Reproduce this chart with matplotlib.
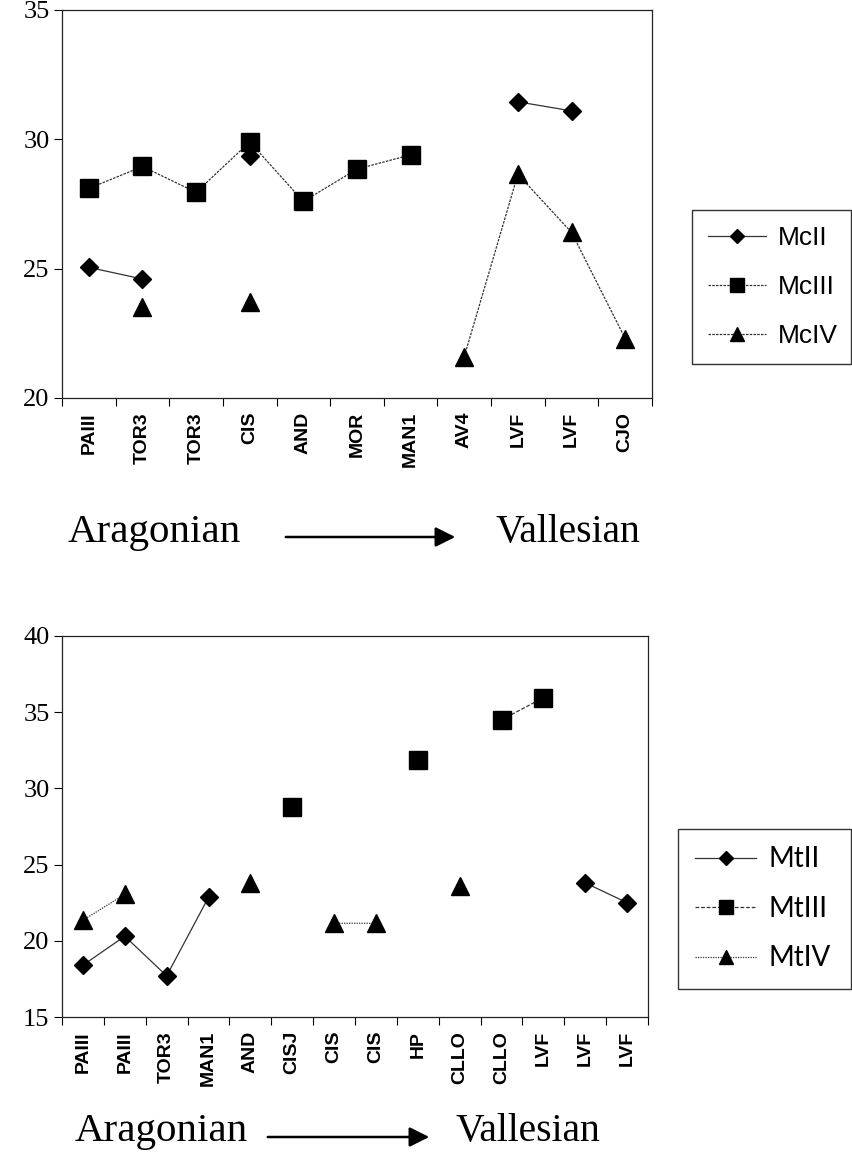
import matplotlib
matplotlib.use('Agg')
import matplotlib.pyplot as plt
from matplotlib.patches import FancyArrowPatch
import numpy as np

plt.rcParams.update({'font.family': 'Liberation Serif'})

# top panel (metacarpals)
mc_sites = ['PAIII', 'TOR3', 'TOR3', 'CIS', 'AND', 'MOR', 'MAN1', 'AV4', 'LVF', 'LVF', 'CJO']
mc_ii = [25.05, 24.6, None, 29.35, None, None, None, None, 31.45, 31.1, None]
mc_iii = [28.1, 28.95, 27.95, 29.9, 27.6, 28.85, 29.4, None, None, None, None]
mc_iv = [None, 23.5, None, 23.7, None, None, None, 21.6, 28.65, 26.4, 22.3]

# bottom panel (metatarsals)
mt_sites = ['PAIII', 'PAIII', 'TOR3', 'MAN1', 'AND', 'CISJ', 'CIS', 'CIS', 'HP', 'CLLO', 'CLLO', 'LVF', 'LVF', 'LVF']
mt_ii = [18.4, 20.3, 17.7, 22.85, None, None, None, None, None, None, None, None, 23.8, 22.5]
mt_iii = [None, None, None, None, None, 28.8, None, None, 31.85, None, 34.5, 35.95, None, None]
mt_iv = [21.35, 23.05, None, None, 23.8, None, 21.15, 21.15, None, 23.6, None, None, None, None]

W, H = 852, 1155
fig = plt.figure(figsize=(W / 100, H / 100), dpi=100)


def to_arr(vals):
    return np.array([np.nan if v is None else v for v in vals], dtype=float)


def setup_axis(ax, sites, ylim, yticks):
    n = len(sites)
    ax.set_xlim(-0.5, n - 0.5)
    ax.set_ylim(*ylim)
    ax.set_xticks(np.arange(n + 1) - 0.5)
    ax.set_xticklabels([])
    ax.set_xticks(np.arange(n), minor=True)
    ax.set_xticklabels(sites, minor=True, rotation=90, fontsize=14,
                       family='Liberation Sans', weight='bold', va='top')
    ax.tick_params(axis='x', which='minor', length=0, pad=10)
    ax.tick_params(axis='x', which='major', length=6, width=0.8, direction='out')
    ax.set_yticks(yticks)
    ax.tick_params(axis='y', length=6, width=0.8, direction='out', labelsize=19, pad=3)
    for sp in ax.spines.values():
        sp.set_linewidth(0.9)
        sp.set_color('#222222')


def series(ax, vals, marker, ms, ls, label):
    x = np.arange(len(vals))
    ax.plot(x, to_arr(vals), color='#333333', lw=0.9, linestyle=ls, marker=marker,
            markersize=ms, markerfacecolor='k', markeredgecolor='k', label=label,
            clip_on=False)


def add_legend(ax, x0, y0, x1, y1, family, size, pad, bpad):
    leg = ax.legend(loc='upper left', bbox_to_anchor=(x0 / W, 1 - y1 / H, (x1 - x0) / W, (y1 - y0) / H),
                    bbox_transform=fig.transFigure, mode='expand', frameon=True, fancybox=False,
                    prop={'family': family, 'size': size}, handlelength=2.2, markerscale=0.8,
                    labelspacing=pad, borderaxespad=0, borderpad=bpad, handletextpad=0.45)
    leg.get_frame().set_edgecolor('k')
    leg.get_frame().set_linewidth(1.0)
    return leg


# ---- top chart
ax1 = fig.add_axes([62 / W, 1 - 398 / H, 590 / W, 388 / H])
series(ax1, mc_ii, 'D', 9, '-', 'McII')
series(ax1, mc_iii, 's', 12.5, (0, (2, 1)), 'McIII')
series(ax1, mc_iv, '^', 13, (0, (2, 1)), 'McIV')
setup_axis(ax1, mc_sites, (20, 35), [20, 25, 30, 35])
add_legend(ax1, 692, 210, 851, 363, 'Liberation Sans', 19, 0.95, 0.6)

# ---- bottom chart
ax2 = fig.add_axes([62 / W, 1 - 1017 / H, 586 / W, 381 / H])
series(ax2, mt_ii, 'D', 9, '-', 'MtII')
series(ax2, mt_iii, 's', 12.5, (0, (3, 1.5)), 'MtIII')
series(ax2, mt_iv, '^', 13, (0, (1, 1)), 'MtIV')
setup_axis(ax2, mt_sites, (15, 40), [15, 20, 25, 30, 35, 40])
add_legend(ax2, 678, 829, 851, 988, 'Lato', 20, 0.85, 0.62)

# ---- Aragonian -> Vallesian captions
y_top = 1 - 532 / H
fig.text(68 / W, y_top, 'Aragonian', fontsize=29.5, va='center', ha='left')
fig.text(495 / W, y_top, 'Vallesian', fontsize=28.5, va='center', ha='left')
fig.add_artist(FancyArrowPatch((283 / W, 1 - 537 / H), (458 / W, 1 - 537 / H),
                               transform=fig.transFigure, arrowstyle='-|>',
                               mutation_scale=30, lw=1.8, color='k'))

y_bot = 1 - 1132 / H
fig.text(75 / W, y_bot, 'Aragonian', fontsize=29.5, va='center', ha='left')
fig.text(455 / W, y_bot, 'Vallesian', fontsize=28.5, va='center', ha='left')
fig.add_artist(FancyArrowPatch((265 / W, 1 - 1137 / H), (432 / W, 1 - 1137 / H),
                               transform=fig.transFigure, arrowstyle='-|>',
                               mutation_scale=30, lw=1.8, color='k'))

fig.savefig('out.png', dpi=100)
